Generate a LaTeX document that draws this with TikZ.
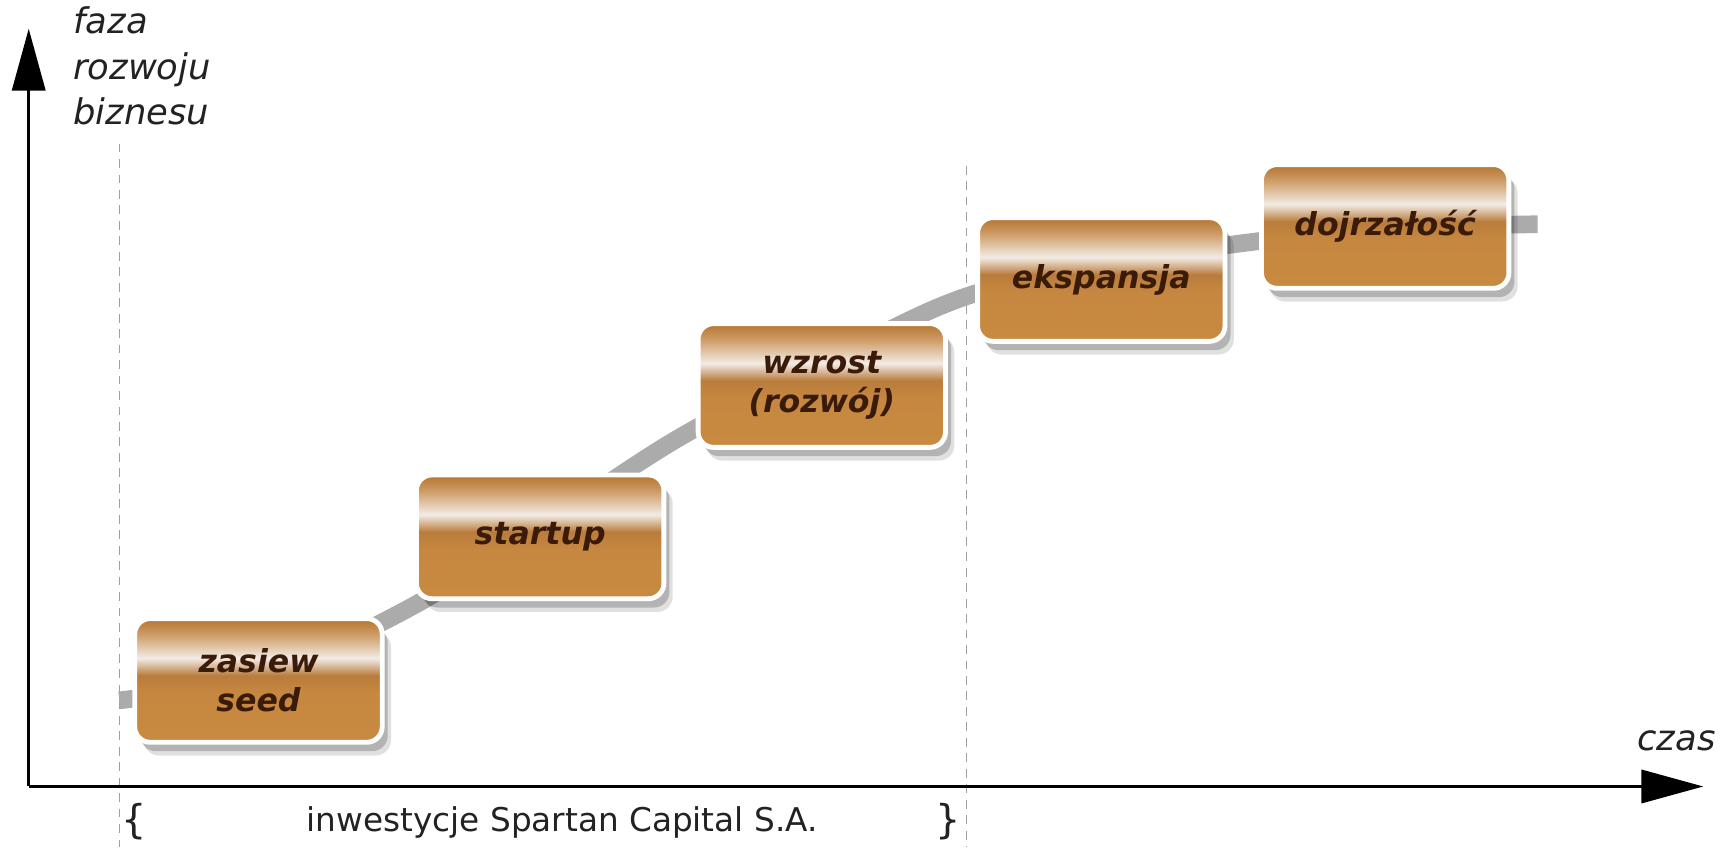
\documentclass[tikz,border=0pt]{standalone}
\usepackage{fontspec}
\setmainfont{DejaVu Sans}[ItalicFont={DejaVu Sans Oblique},BoldFont={DejaVu Sans Bold},BoldItalicFont={DejaVu Sans Bold Oblique}]
\usetikzlibrary{arrows.meta,shadows}
\definecolor{bxbot}{HTML}{C88A40}
\definecolor{bxmid}{HTML}{C68740}
\definecolor{bxdark}{HTML}{B97C3C}
\definecolor{bxlight}{HTML}{F2ECE6}
\definecolor{bxup}{HTML}{D0A06C}
\definecolor{bxtop}{HTML}{B4732E}
\definecolor{labbrown}{HTML}{3A1B0A}
\definecolor{curvegray}{HTML}{ABABAB}
\definecolor{txtgray}{HTML}{222222}
\pgfdeclareverticalshading{phaseshade}{100bp}{color(0bp)=(bxbot); color(25bp)=(bxbot); color(45bp)=(bxmid); color(52bp)=(bxdark); color(59bp)=(bxlight); color(68bp)=(bxup); color(75bp)=(bxtop); color(100bp)=(bxtop)}
\tikzset{
  phasebox/.style={rounded corners=7pt, minimum width=112pt, minimum height=56pt,
    draw=white, line width=2.2pt, shading=phaseshade,
    drop shadow={shadow xshift=4pt,shadow yshift=-6pt,opacity=0.12,fill=black},
    drop shadow={shadow xshift=2.5pt,shadow yshift=-4pt,opacity=0.2,fill=black},
    font=\fontsize{14.3}{17.5}\selectfont\bfseries\itshape, text=labbrown,
    align=center, inner sep=0pt},
  axislabel/.style={font=\fontsize{16}{20.5}\selectfont\itshape, text=txtgray, inner sep=0pt},
  guide/.style={gray!75, line width=0.6pt, dash pattern=on 4pt off 3pt},
  axisline/.style={black, line width=1.4pt, -{Triangle[length=28pt,width=15pt]}}
}
\begin{document}
\begin{tikzpicture}[x=0.5pt,y=-0.5pt]
\useasboundingbox (0,0) rectangle (1568,767);
% guides
\coordinate (g1t) at (108,130); \coordinate (g1b) at (108,767);
\coordinate (g2t) at (875,150); \coordinate (g2b) at (875,767);
\draw[guide] (g1t) -- (g1b);
\draw[guide] (g2t) -- (g2b);
% growth curve
\coordinate (p0) at (108,634);
\coordinate (p1) at (234,612);
\coordinate (p2) at (362,555);
\coordinate (p3) at (489,478);
\coordinate (p4) at (617,395);
\coordinate (p5) at (744,330);
\coordinate (p6) at (870,270);
\coordinate (p7) at (997,240);
\coordinate (p8) at (1126,220);
\coordinate (p9) at (1254,207);
\coordinate (p10) at (1392,203);
\draw[curvegray, line width=8pt] plot[smooth, tension=0.6] coordinates {(p0) (p1) (p2) (p3) (p4) (p5) (p6) (p7) (p8) (p9) (p10)};
% phase boxes
\node[phasebox] (seed) at (234,616) {zasiew\\seed};
\node[phasebox] (startup) at (489,486) {startup};
\node[phasebox] (wzrost) at (744,349) {wzrost\\(rozwój)};
\node[phasebox] (eksp) at (997,253) {ekspansja};
\node[phasebox] (dojr) at (1254,205) {dojrzałość};
% axes
\coordinate (O) at (26,712);
\coordinate (ytip) at (26,26);
\coordinate (xtip) at (1542,712);
\draw[axisline] (O) -- (ytip);
\draw[axisline] (O) -- (xtip);
% axis labels
\node[axislabel, anchor=north west, align=left] (ylab) at (66,6) {faza\\rozwoju\\biznesu};
\node[axislabel, anchor=base west] (xlab) at (1482,679) {czas};
% investment span
\node[font=\fontsize{18}{21}\selectfont, text=txtgray, anchor=base] (br1) at (121,755) {\{};
\node[font=\fontsize{18}{21}\selectfont, text=txtgray, anchor=base] (br2) at (858,755) {\}};
\node[font=\fontsize{14.8}{18}\selectfont, text=txtgray, anchor=base] (inv) at (509,753) {inwestycje Spartan Capital S.A.};
\end{tikzpicture}
\end{document}
